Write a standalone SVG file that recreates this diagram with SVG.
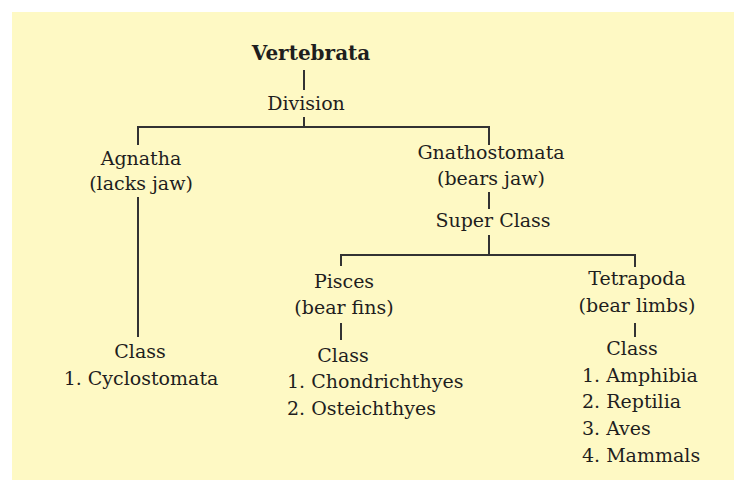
<svg xmlns="http://www.w3.org/2000/svg" width="735" height="481" viewBox="0 0 735 481">
<style>
text{font-family:"DejaVu Serif","Liberation Serif",serif;font-size:19px;fill:#1e1e1e}
.c{text-anchor:middle}
.b{font-weight:bold;font-size:20px}
.ln{stroke:#333;stroke-width:2;fill:none}
</style>
<rect x="12" y="12" width="722" height="468" fill="#fef9c4"/>
<g id="connectors">
<path class="ln" d="M304 70V90"/>
<path class="ln" d="M304 117V127"/>
<path class="ln" d="M138 145V127H489V145"/>
<path class="ln" d="M138 197V337"/>
<path class="ln" d="M489 192V209"/>
<path class="ln" d="M489 235V255"/>
<path class="ln" d="M341 266V255H635V267"/>
<path class="ln" d="M341 323V340"/>
<path class="ln" d="M635 323V337"/>
</g>
<g id="vertebrata"><text class="c b" x="311" y="60">Vertebrata</text></g>
<g id="division"><text class="c" x="306" y="110">Division</text></g>
<g id="agnatha"><text class="c" x="141" y="165">Agnatha</text><text class="c" x="141" y="190">(lacks jaw)</text></g>
<g id="agnatha-class"><text class="c" x="140" y="358">Class</text><text class="c" x="141" y="385">1. Cyclostomata</text></g>
<g id="gnathostomata"><text class="c" x="491" y="159">Gnathostomata</text><text class="c" x="491" y="185">(bears jaw)</text></g>
<g id="superclass"><text class="c" x="493" y="227">Super Class</text></g>
<g id="pisces"><text class="c" x="344" y="288">Pisces</text><text class="c" x="344" y="314">(bear fins)</text></g>
<g id="pisces-class"><text class="c" x="343" y="362">Class</text><text x="287" y="388">1. Chondrichthyes</text><text x="287" y="415">2. Osteichthyes</text></g>
<g id="tetrapoda"><text class="c" x="637" y="285">Tetrapoda</text><text class="c" x="637" y="312">(bear limbs)</text></g>
<g id="tetrapoda-class"><text class="c" x="632" y="355">Class</text><text x="582" y="382">1. Amphibia</text><text x="582" y="408">2. Reptilia</text><text x="582" y="435">3. Aves</text><text x="582" y="462">4. Mammals</text></g>
</svg>
